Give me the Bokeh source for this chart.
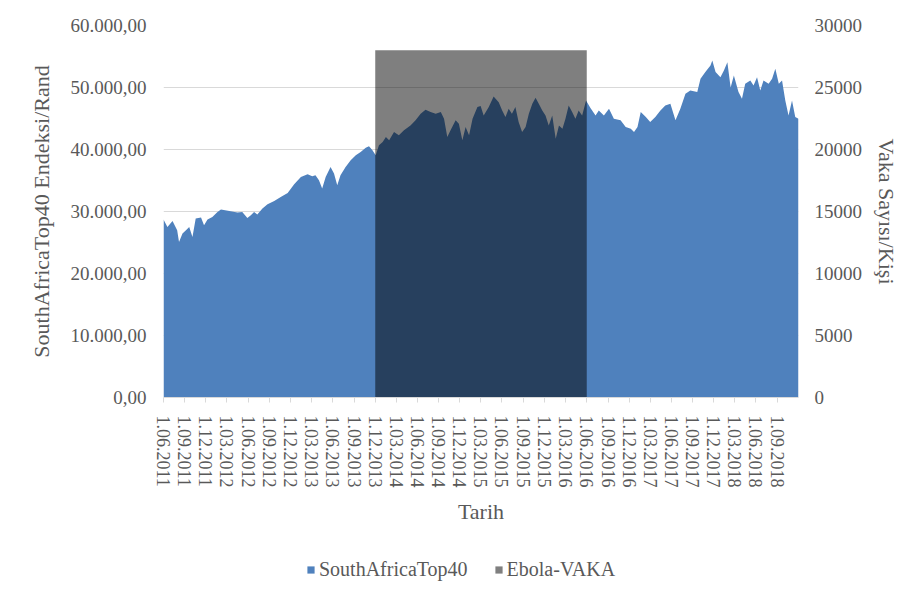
import pandas as pd
from bokeh.plotting import figure
from bokeh.layouts import column
from bokeh.models import (ColumnDataSource, Range1d, LinearAxis, FixedTicker,
                          Legend, LegendItem, DatetimeTickFormatter)
from bokeh.embed import file_html
from bokeh.resources import INLINE

# SouthAfrica Top40 index level (Rand)
dates = [
    "2011-06-01", "2011-06-18", "2011-07-10", "2011-07-30", "2011-08-07", "2011-08-22",
    "2011-09-06", "2011-09-20", "2011-10-04", "2011-10-18", "2011-11-10", "2011-11-23",
    "2011-12-08", "2011-12-29", "2012-01-20", "2012-02-04", "2012-03-17", "2012-04-15",
    "2012-05-06", "2012-05-28", "2012-06-12", "2012-06-26", "2012-07-10", "2012-08-01",
    "2012-08-23", "2012-09-21", "2012-10-19", "2012-11-18", "2012-12-16", "2013-01-14",
    "2013-02-12", "2013-03-04", "2013-03-18", "2013-04-02", "2013-04-16", "2013-05-01",
    "2013-05-22", "2013-06-06", "2013-06-20", "2013-07-04", "2013-07-26", "2013-08-17",
    "2013-09-08", "2013-09-29", "2013-10-21", "2013-11-04", "2013-11-19", "2013-12-03",
    "2013-12-17", "2014-01-02", "2014-01-16", "2014-01-30", "2014-02-20", "2014-03-13",
    "2014-04-04", "2014-05-02", "2014-05-24", "2014-06-15", "2014-07-06", "2014-07-28",
    "2014-08-19", "2014-09-10", "2014-09-24", "2014-10-08", "2014-10-22", "2014-11-13",
    "2014-11-27", "2014-12-12", "2014-12-26", "2015-01-10", "2015-01-25", "2015-02-15",
    "2015-03-01", "2015-03-14", "2015-04-05", "2015-04-26", "2015-05-18", "2015-06-02",
    "2015-06-16", "2015-06-30", "2015-07-14", "2015-07-29", "2015-08-12", "2015-08-27",
    "2015-09-11", "2015-09-25", "2015-10-10", "2015-10-24", "2015-11-07", "2015-11-22",
    "2015-12-06", "2015-12-20", "2016-01-04", "2016-01-19", "2016-02-02", "2016-02-17",
    "2016-03-01", "2016-03-15", "2016-03-30", "2016-04-13", "2016-04-27", "2016-05-12",
    "2016-05-29", "2016-06-17", "2016-07-09", "2016-07-23", "2016-08-14", "2016-09-05",
    "2016-09-26", "2016-10-25", "2016-11-16", "2016-12-08", "2016-12-22", "2017-01-06",
    "2017-01-20", "2017-02-11", "2017-03-02", "2017-03-24", "2017-04-15", "2017-05-06",
    "2017-05-28", "2017-06-19", "2017-07-10", "2017-08-01", "2017-08-22", "2017-09-21",
    "2017-10-05", "2017-10-26", "2017-11-17", "2017-11-25", "2017-12-09", "2017-12-30",
    "2018-01-14", "2018-01-29", "2018-02-12", "2018-02-26", "2018-03-18", "2018-04-02",
    "2018-04-16", "2018-05-08", "2018-05-22", "2018-06-06", "2018-06-20", "2018-07-04",
    "2018-07-26", "2018-08-10", "2018-08-24", "2018-09-08", "2018-09-22", "2018-10-06",
    "2018-10-20", "2018-11-04", "2018-11-18", "2018-12-02",
]
top40 = [
    28700, 27500, 28480, 26980, 25100, 26450,
    26980, 27510, 25900, 28860, 29020, 27780,
    28700, 29120, 29930, 30310, 30040, 29830,
    29930, 28960, 29400, 29930, 29500, 30470,
    31170, 31700, 32340, 32990, 34400, 35560,
    36000, 35680, 35840, 35030, 33690, 35560,
    37170, 36110, 34230, 35840, 37170, 38250,
    39060, 39590, 40290, 40510, 39870, 39060,
    40670, 41200, 42010, 41480, 42810, 42280,
    43090, 43890, 44700, 45770, 46420, 46040,
    45770, 46040, 44960, 42010, 43090, 44700,
    44160, 41480, 43620, 42280, 44960, 46840,
    47000, 45500, 46840, 48560, 47640, 46310,
    45230, 46580, 45770, 46840, 44420, 42810,
    43620, 45770, 47370, 48340, 47370, 46310,
    45500, 43890, 45500, 41750, 43890, 43360,
    44960, 47110, 46040, 44960, 46310, 45500,
    47920, 46700, 45500, 46310, 45500, 46580,
    44960, 44700, 43620, 43360, 42810, 43620,
    46040, 45230, 44420, 45230, 46310, 47110,
    47370, 44700, 46580, 49000, 49530, 49260,
    51410, 52480, 53560, 54360, 52480, 51670,
    52750, 54090, 50000, 51940, 49260, 48190,
    50610, 51140, 50330, 51670, 49530, 51140,
    50610, 51410, 53020, 50610, 51140, 47920,
    45500, 47920, 45230, 44960,
]

# Ebola outbreak period and case count (people)
ebola_start = "2013-12-01"
ebola_end = "2016-06-01"
ebola_cases = 28000

x_tick_labels = [
    "1.06.2011", "1.09.2011", "1.12.2011",
    "1.03.2012", "1.06.2012", "1.09.2012", "1.12.2012",
    "1.03.2013", "1.06.2013", "1.09.2013", "1.12.2013",
    "1.03.2014", "1.06.2014", "1.09.2014", "1.12.2014",
    "1.03.2015", "1.06.2015", "1.09.2015", "1.12.2015",
    "1.03.2016", "1.06.2016", "1.09.2016", "1.12.2016",
    "1.03.2017", "1.06.2017", "1.09.2017", "1.12.2017",
    "1.03.2018", "1.06.2018", "1.09.2018",
]
left_ticks = [0, 10000, 20000, 30000, 40000, 50000, 60000]
left_tick_labels = ["0,00", "10.000,00", "20.000,00", "30.000,00",
                    "40.000,00", "50.000,00", "60.000,00"]
right_ticks = [0, 5000, 10000, 15000, 20000, 25000, 30000]
right_tick_labels = ["0", "5000", "10000", "15000", "20000", "25000", "30000"]

x_start = "2011-06-01"
x_end = "2018-12-02"

FONT = "Liberation Serif"
TEXT = "#595959"
GRID = "#D9D9D9"
BLUE = "#4F81BD"


def ms(d):
    return int(pd.Timestamp(d).value // 10**6)


src = ColumnDataSource(dict(date=pd.to_datetime(dates), value=top40))
ebola_src = ColumnDataSource(dict(left=[pd.Timestamp(ebola_start)],
                                  right=[pd.Timestamp(ebola_end)],
                                  top=[ebola_cases]))
tick_dates = pd.to_datetime(x_tick_labels, format="%d.%m.%Y")
tick_ms = [ms(d) for d in tick_dates]

p = figure(frame_width=635, frame_height=372, x_axis_type="datetime",
           x_range=Range1d(ms(x_start), ms(x_end)),
           y_range=Range1d(0, 60000),
           output_backend="svg", toolbar_location=None,
           min_border_left=163, min_border_right=125,
           min_border_top=25, min_border_bottom=143)
p.extra_y_ranges = {"cases": Range1d(0, 30000)}
p.outline_line_color = None
p.background_fill_color = "white"
p.border_fill_color = "white"

p.varea(x="date", y1=0, y2="value", source=src, fill_color=BLUE)
p.quad(left="left", right="right", bottom=0, top="top", source=ebola_src,
       y_range_name="cases", fill_color="black", fill_alpha=0.5, line_color=None)

# grid
p.xgrid.visible = False
p.ygrid.grid_line_color = GRID
p.ygrid.ticker = FixedTicker(ticks=left_ticks)

# bottom (date) axis
xa = p.xaxis[0]
xa.ticker = FixedTicker(ticks=tick_ms)
xa.formatter = DatetimeTickFormatter(days="1.%m.%Y", months="1.%m.%Y", years="1.%m.%Y")
xa.major_label_overrides = dict(zip(tick_ms, x_tick_labels))
xa.major_label_orientation = "vertical"
xa.axis_line_color = GRID
xa.major_tick_line_color = GRID
xa.major_tick_out = 5
xa.major_tick_in = 0
xa.minor_tick_line_color = None
xa.major_label_standoff = 13
xa.axis_label = "Tarih"
xa.axis_label_standoff = 8

# left axis
ya = p.yaxis[0]
ya.ticker = FixedTicker(ticks=left_ticks)
ya.major_label_overrides = dict(zip(left_ticks, left_tick_labels))
ya.axis_line_color = None
ya.major_tick_line_color = None
ya.minor_tick_line_color = None
ya.major_label_standoff = 11
ya.axis_label = "SouthAfricaTop40 Endeksi/Rand"
ya.axis_label_standoff = 14

# right axis (cases)
ra = LinearAxis(y_range_name="cases", ticker=FixedTicker(ticks=right_ticks))
ra.major_label_overrides = dict(zip(right_ticks, right_tick_labels))
ra.axis_line_color = None
ra.major_tick_line_color = None
ra.minor_tick_line_color = None
ra.major_label_standoff = 10
ra.axis_label = "Vaka Sayısı/Kişi"
ra.axis_label_standoff = 9
p.add_layout(ra, "right")

for ax in (xa, ya, ra):
    ax.major_label_text_font = FONT
    ax.major_label_text_color = TEXT
    ax.axis_label_text_font = FONT
    ax.axis_label_text_font_size = "22px"
    ax.axis_label_text_font_style = "normal"
    ax.axis_label_text_color = TEXT
xa.major_label_text_font_size = "18px"
ya.major_label_text_font_size = "19px"
ra.major_label_text_font_size = "19px"

# legend strip under the chart: same series drawn outside its visible range
lg = figure(width=923, height=62, x_axis_type="datetime",
            x_range=Range1d(ms(x_start), ms(x_end)), y_range=Range1d(-20, -10),
            output_backend="svg", toolbar_location=None,
            x_axis_location=None, y_axis_location=None,
            min_border_left=0, min_border_right=0,
            min_border_top=0, min_border_bottom=0)
lg.outline_line_color = None
lg.grid.visible = False
lg.border_fill_color = "white"
area_key = lg.varea(x="date", y1=0, y2="value", source=src, fill_color=BLUE)
ebola_key = lg.quad(left="left", right="right", bottom=0, top="top", source=ebola_src,
                    fill_color="black", fill_alpha=0.5, line_color=None)

legend = Legend(items=[LegendItem(label="SouthAfricaTop40", renderers=[area_key]),
                       LegendItem(label="Ebola-VAKA", renderers=[ebola_key])],
                orientation="horizontal", location=(143, 21),
                glyph_width=9, glyph_height=9, label_standoff=4, spacing=26,
                border_line_color=None, background_fill_alpha=0,
                label_text_font=FONT, label_text_font_size="20px",
                label_text_color=TEXT, margin=0, padding=4)
lg.add_layout(legend, "center")

open("out.html", "w").write(file_html(column(p, lg), INLINE))
